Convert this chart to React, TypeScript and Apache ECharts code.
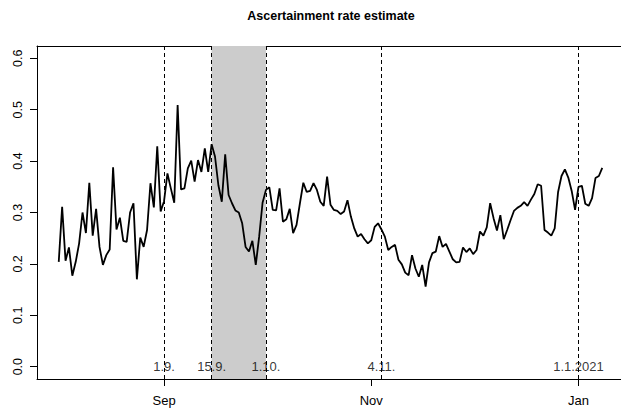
import React, { useEffect, useRef } from "react";
import * as echarts from "echarts";

const startDate = "2020-08-01";
const rate = [
  0.204, 0.311, 0.206, 0.232, 0.177, 0.204, 0.24, 0.3, 0.26, 0.358,
  0.255, 0.307, 0.233, 0.198, 0.217, 0.228, 0.388, 0.267, 0.29, 0.245,
  0.243, 0.3, 0.318, 0.17, 0.251, 0.233, 0.266, 0.357, 0.31, 0.429,
  0.302, 0.322, 0.376, 0.347, 0.319, 0.509, 0.345, 0.347, 0.386, 0.401,
  0.36, 0.402, 0.379, 0.425, 0.379, 0.433, 0.409, 0.353, 0.321, 0.413,
  0.334, 0.318, 0.304, 0.3, 0.279, 0.233, 0.224, 0.245, 0.198, 0.253,
  0.319, 0.344, 0.349, 0.305, 0.304, 0.347, 0.282, 0.287, 0.307, 0.26,
  0.276, 0.318, 0.358, 0.34, 0.342, 0.357, 0.344, 0.321, 0.313, 0.37,
  0.315, 0.305, 0.303, 0.297, 0.302, 0.324, 0.292, 0.269, 0.253, 0.258,
  0.248, 0.24, 0.246, 0.272, 0.279, 0.267, 0.253, 0.227, 0.233, 0.237,
  0.208, 0.199, 0.183, 0.178, 0.217, 0.191, 0.175, 0.198, 0.156, 0.203,
  0.221, 0.224, 0.254, 0.233, 0.239, 0.224, 0.209, 0.203, 0.204, 0.232,
  0.223, 0.23, 0.219, 0.227, 0.263, 0.255, 0.271, 0.318, 0.289, 0.265,
  0.295, 0.248, 0.266, 0.285, 0.303, 0.309, 0.313, 0.32, 0.313, 0.325,
  0.336, 0.355, 0.352, 0.266, 0.261, 0.255, 0.269, 0.34, 0.371, 0.384,
  0.368, 0.342, 0.305, 0.35, 0.352, 0.317, 0.313, 0.328, 0.367, 0.371,
  0.387,
];
const eventDates = ["2020-09-01", "2020-09-15", "2020-10-01", "2020-11-04", "2021-01-01"];
const eventLabels = ["1.9.", "15.9.", "1.10.", "4.11.", "1.1.2021"];
const shadeStart = "2020-09-15";
const shadeEnd = "2020-10-01";
const xTickDates = ["2020-09-01", "2020-11-01", "2021-01-01"];
const xTickLabels = ["Sep", "Nov", "Jan"];
const yTicks = [0, 0.1, 0.2, 0.3, 0.4, 0.5, 0.6];
const yTickLabels = ["0.0", "0.1", "0.2", "0.3", "0.4", "0.5", "0.6"];
const titleText = "Ascertainment rate estimate";

const DAY = 86400000;
const ts = (s: string) => {
  const [y, m, d] = s.split("-").map(Number);
  return Date.UTC(y, m - 1, d);
};

export default function App() {
  const ref = useRef<HTMLDivElement>(null);
  useEffect(() => {
    if (!ref.current) return;
    const chart = echarts.init(ref.current, null, { renderer: "svg" });
    const t0 = ts(startDate);
    const n = rate.length;
    const span = (n - 1) * DAY;
    const xMin = t0 - 0.04 * span;
    const xMax = t0 + span + 0.04 * span;
    const lineData = rate.map((v, i) => [t0 + i * DAY, v]);
    const xTickTs = xTickDates.map(ts);
    const font = "'Liberation Sans', Arial, Helvetica, sans-serif";

    chart.setOption({
      animation: false,
      graphic: [
        {
          type: "text",
          x: 331,
          y: 16,
          style: {
            text: titleText,
            textAlign: "center",
            textVerticalAlign: "middle",
            font: `bold 12.5px ${font}`,
            fill: "#000",
          },
        },
      ],
      grid: {
        left: 37,
        right: 1,
        top: 46,
        bottom: 32,
        show: false,
      },
      xAxis: [
        {
          type: "value",
          min: xMin,
          max: xMax,
          splitLine: { show: false },
          axisLine: { show: true, onZero: false, lineStyle: { color: "#000", width: 1 } },
          axisTick: {
            show: true,
            length: 7,
            customValues: xTickTs,
            lineStyle: { color: "#000", width: 1 },
          },
          axisLabel: {
            customValues: xTickTs,
            margin: 15,
            fontSize: 13,
            fontFamily: font,
            color: "#000",
            formatter: (v: number) => {
              const i = xTickTs.findIndex((t) => Math.abs(t - v) < 1000);
              return i >= 0 ? xTickLabels[i] : "";
            },
          },
        },
        {
          type: "value",
          position: "top",
          min: xMin,
          max: xMax,
          splitLine: { show: false },
          axisLine: { show: true, onZero: false, lineStyle: { color: "#000", width: 1 } },
          axisTick: { show: false },
          axisLabel: { show: false },
        },
      ],
      yAxis: {
        type: "value",
        min: -0.024,
        max: 0.624,
        splitLine: { show: false },
        axisLine: { show: true, onZero: false, lineStyle: { color: "#000", width: 1 } },
        axisTick: {
          show: true,
          length: 7,
          customValues: yTicks,
          lineStyle: { color: "#000", width: 1 },
        },
        axisLabel: {
          customValues: yTicks,
          rotate: 90,
          margin: 13,
          fontSize: 12.5,
          fontFamily: font,
          color: "#000",
          formatter: (v: number) => {
            const i = yTicks.findIndex((t) => Math.abs(t - v) < 1e-9);
            return i >= 0 ? yTickLabels[i] : "";
          },
        },
      },
      series: [
        {
          type: "line",
          xAxisIndex: 0,
          data: lineData,
          showSymbol: false,
          symbol: "none",
          silent: true,
          lineStyle: { color: "#000", width: 1.8 },
          z: 3,
          markArea: {
            silent: true,
            itemStyle: { color: "#cccccc", borderWidth: 0 },
            data: [[{ xAxis: ts(shadeStart) }, { xAxis: ts(shadeEnd) }]],
          },
          markLine: {
            silent: true,
            symbol: ["none", "none"],
            label: { show: false },
            lineStyle: { color: "#000", width: 1, type: [4, 3] },
            emphasis: { disabled: true },
            data: eventDates.map((d) => ({ xAxis: ts(d) })),
          },
        },
        {
          type: "scatter",
          xAxisIndex: 0,
          silent: true,
          symbolSize: 0,
          z: 6,
          data: eventDates.map((d, i) => ({ value: [ts(d), 0], name: eventLabels[i] })),
          label: {
            show: true,
            position: "inside",
            formatter: (p: any) => p.name,
            fontSize: 13,
            fontFamily: font,
            color: "#000",
          },
        },
      ],
    });
    return () => chart.dispose();
  }, []);
  return (
    <div
      style={{ position: "absolute", left: 0, top: 0, width: 621, height: 411, overflow: "hidden", background: "#fff" }}
    >
      <div ref={ref} style={{ width: 625, height: 411 }} />
    </div>
  );
}
